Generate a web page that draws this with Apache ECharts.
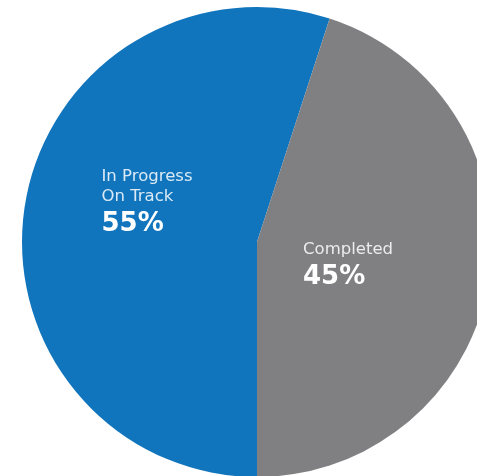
<!DOCTYPE html>
<html>
<head>
<meta charset="utf-8">
<style>
html,body{margin:0;padding:0;background:#fff;}
#chart{width:477px;height:476px;}
</style>
<script src="https://cdn.jsdelivr.net/npm/echarts@6/dist/echarts.min.js"></script>
</head>
<body>
<div id="chart"></div>
<script>
// Data
var categories = ['In Progress\nOn Track', 'Completed'];
var values = [55, 45];
var colors = ['#1175BD', '#808083'];

var chart = echarts.init(document.getElementById('chart'), null, {renderer: 'canvas'});
var data = categories.map(function (c, i) {
  return { name: c, value: values[i], itemStyle: { color: colors[i] } };
});
var offsets = [[9, -19], [-28, 6]];

chart.setOption({
  animation: false,
  series: [{
    type: 'pie',
    center: [257, 242],
    radius: [0, 235],
    startAngle: -90,
    clockwise: true,
    data: data,
    silent: true,
    itemStyle: { borderWidth: 0 },
    label: {
      show: true,
      position: 'inside',
      fontFamily: 'DejaVu Sans',
      formatter: function (p) {
        var lines = p.name.split('\n').map(function (l) { return '{a|' + l + '}'; });
        lines.push('{b|' + p.value + '%}');
        return lines.join('\n');
      },
      rich: {
        a: { fontFamily: 'DejaVu Sans', fontSize: 16.5, color: 'rgba(255,255,255,0.85)', lineHeight: 20, align: 'left' },
        b: { fontFamily: 'DejaVu Sans', fontSize: 26, fontWeight: 'bold', color: '#ffffff', lineHeight: 34, align: 'left' }
      }
    },
    labelLine: { show: false },
    labelLayout: function (params) {
      var o = offsets[params.dataIndex];
      return { dx: o[0], dy: o[1] };
    }
  }]
});
</script>
</body>
</html>
